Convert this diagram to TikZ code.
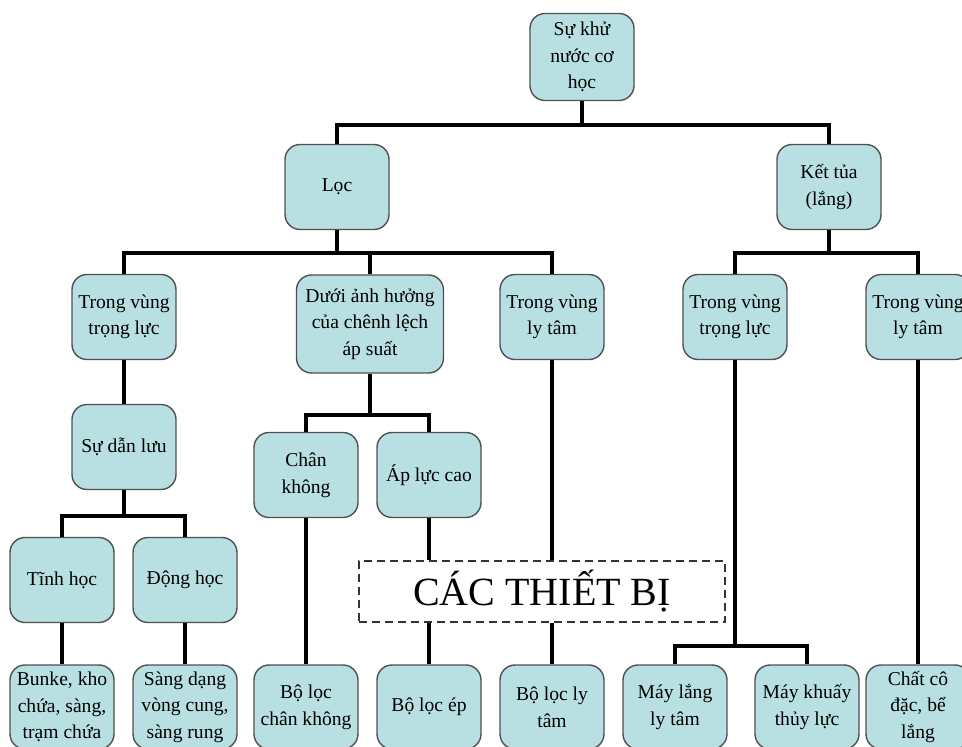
\documentclass[tikz,border=0pt]{standalone}
\usepackage{fontspec}
\setmainfont{Liberation Serif}
\definecolor{boxfill}{HTML}{B8DFE2}
\definecolor{boxline}{HTML}{505050}

\begin{document}
\begin{tikzpicture}[x=0.5pt, y=-0.5pt,
    box/.style={draw=boxline, line width=0.7pt, fill=boxfill, rounded corners=7.5pt,
        minimum width=52pt, minimum height=42.5pt, align=center, inner sep=1pt,
        font=\fontsize{9.8}{13.3}\selectfont},
    link/.style={line width=2pt}]
    \useasboundingbox (0,0) rectangle (962,747);
    % boxes
    \node[box, minimum height=43.5pt] (khu) at (582,57) {Sự khử\\nước cơ\\học};
    \node[box] (loc) at (337,187) {Lọc};
    \node[box] (ket) at (829,187) {Kết tủa\\(lắng)};
    \node[box] (tv1) at (124,317) {Trong vùng\\trọng lực};
    \node[box, minimum width=73.5pt, minimum height=49pt] (duoi) at (370,324) {Dưới ảnh hưởng\\của chênh lệch\\áp suất};
    \node[box] (lt1) at (552,317) {Trong vùng\\ly tâm};
    \node[box] (tv2) at (735,317) {Trong vùng\\trọng lực};
    \node[box] (lt2) at (918,317) {Trong vùng\\ly tâm};
    \node[box] (dan) at (124,447) {Sự dẫn lưu};
    \node[box] (chan) at (306,475) {Chân\\không};
    \node[box] (apl) at (429,475) {Áp lực cao};
    \node[box] (tinh) at (62,580) {Tĩnh học};
    \node[box] (dong) at (185,580) {Động học};
    \node[draw=black!80, dash pattern=on 4pt off 2.5pt, line width=0.9pt, minimum width=183pt, minimum height=30.5pt,
        font=\fontsize{20}{24}\selectfont] (tb) at (542,591.5) {CÁC THIẾT BỊ};
    \node[box, minimum height=42pt] (bunke) at (62,707) {Bunke, kho\\chứa, sàng,\\trạm chứa};
    \node[box, minimum height=42pt] (sang) at (185,707) {Sàng dạng\\vòng cung,\\sàng rung};
    \node[box, minimum height=42pt] (blck) at (306,707) {Bộ lọc\\chân không};
    \node[box, minimum height=42pt] (bloe) at (429,707) {Bộ lọc ép};
    \node[box, minimum height=42pt] (blly) at (552,707) {Bộ lọc ly\\tâm};
    \node[box, minimum height=42pt] (mlang) at (675,707) {Máy lắng\\ly tâm};
    \node[box, minimum height=42pt] (mkhuay) at (807,707) {Máy khuấy\\thủy lực};
    \node[box, minimum height=42pt] (chat) at (918,707) {Chất cô\\đặc, bể\\lắng};
    % connectors
    \coordinate (b1) at (582,125);
    \coordinate (b2) at (337,253);
    \coordinate (b3) at (829,253);
    \coordinate (b4) at (370,415);
    \coordinate (b5) at (124,516);
    \coordinate (b6) at (735,646);
    \draw[link] (khu) -- (b1);
    \draw[link] (loc.north) |- (b1) -| (ket.north);
    \draw[link] (loc) -- (b2);
    \draw[link] (tv1.north) |- (b2) -| (lt1.north);
    \draw[link] (duoi.north) -- (duoi.north |- b2);
    \draw[link] (ket) -- (b3);
    \draw[link] (tv2.north) |- (b3) -| (lt2.north);
    \draw[link] (tv1) -- (dan);
    \draw[link] (duoi) -- (b4);
    \draw[link] (chan.north) |- (b4) -| (apl.north);
    \draw[link] (dan) -- (b5);
    \draw[link] (tinh.north) |- (b5) -| (dong.north);
    \draw[link] (tinh) -- (bunke);
    \draw[link] (dong) -- (sang);
    \draw[link] (chan) -- (blck);
    \draw[link] (apl) -- (apl |- tb.north);
    \draw[link] (tb.south -| bloe) -- (bloe);
    \draw[link] (lt1) -- (lt1 |- tb.north);
    \draw[link] (tb.south -| blly) -- (blly);
    \draw[link] (tv2) -- (b6);
    \draw[link] (mlang.north) |- (b6) -| (mkhuay.north);
    \draw[link] (lt2) -- (chat);
\end{tikzpicture}
\end{document}
